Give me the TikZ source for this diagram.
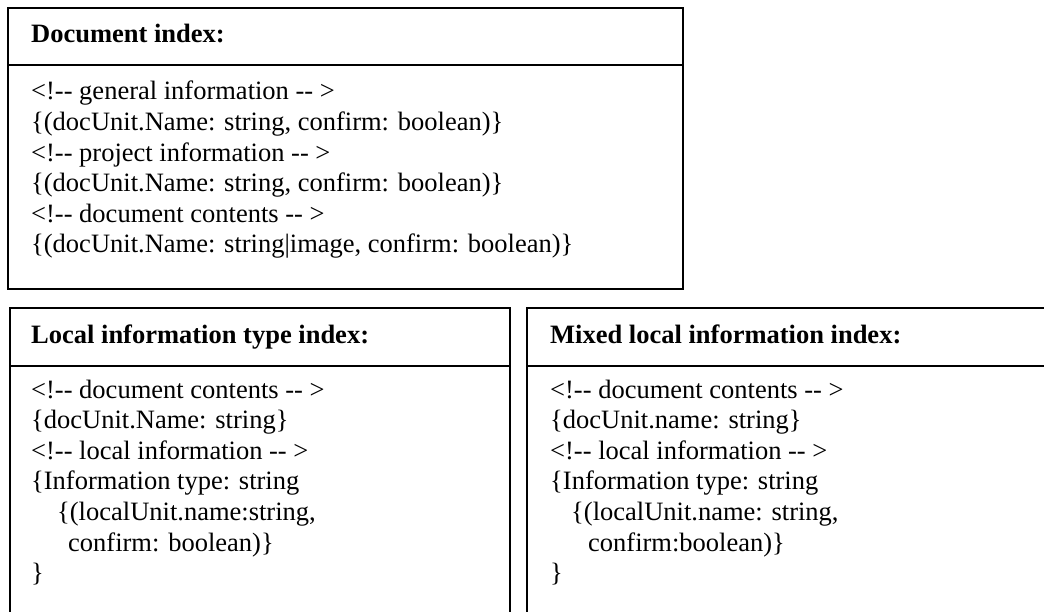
\documentclass[tikz,border=0pt]{standalone}
\usepackage{fontspec}
\setmainfont{Liberation Serif}
\newcommand{\dd}{-{}-}
\tikzset{
  boxframe/.style={draw=black, line width=1.3pt},
  headtext/.style={anchor=base west, inner sep=0pt, font=\fontsize{26.5}{30.6}\selectfont\bfseries},
  ln/.style={anchor=base west, inner sep=0pt, font=\fontsize{26.5}{30.6}\selectfont},
}
\begin{document}
\begin{tikzpicture}[x=1pt, y=-1pt]
\useasboundingbox (0,0) rectangle (1044,612);
\clip (0,0) rectangle (1044,612);
% --- Document index box
\coordinate (d1) at (8,8);
\coordinate (d2) at (683,289);
\coordinate (dl) at (8,65);
\coordinate (dr) at (683,65);
\draw[boxframe] (d1) rectangle (d2);
\draw[boxframe] (dl) -- (dr);
\node[headtext] (dh) at (31,43) {Document index:};
\node[ln] (da) at (31,100)   {<!\dd{} general information \dd{} >};
\node[ln] (db) at (31,130.6) {\{(docUnit.Name: string, confirm: boolean)\}};
\node[ln] (dc) at (31,161.2) {<!\dd{} project information \dd{} >};
\node[ln] (dd) at (31,191.8) {\{(docUnit.Name: string, confirm: boolean)\}};
\node[ln] (de) at (31,222.4) {<!\dd{} document contents \dd{} >};
\node[ln] (df) at (31,253)   {\{(docUnit.Name: string|image, confirm: boolean)\}};
% --- Local information type index box
\coordinate (l1) at (10,308);
\coordinate (l2) at (510,640);
\coordinate (ll) at (10,366);
\coordinate (lr) at (510,366);
\draw[boxframe] (l1) rectangle (l2);
\draw[boxframe] (ll) -- (lr);
\node[headtext] (lh) at (31,343) {Local information type index:};
\node[ln] (la) at (31,398)   {<!\dd{} document contents \dd{} >};
\node[ln] (lb) at (31,428.6) {\{docUnit.Name: string\}};
\node[ln] (lc) at (31,459.2) {<!\dd{} local information \dd{} >};
\node[ln] (ld) at (31,489.8) {\{Information type: string};
\node[ln] (le) at (57,520.4) {\{(localUnit.name:string,};
\node[ln] (lf) at (68,551)   {confirm: boolean)\}};
\node[ln] (lg) at (31,581.6) {\}};
% --- Mixed local information index box
\coordinate (m1) at (527,308);
\coordinate (m2) at (1080,640);
\coordinate (ml) at (527,366);
\coordinate (mr) at (1080,366);
\draw[boxframe] (m1) rectangle (m2);
\draw[boxframe] (ml) -- (mr);
\node[headtext] (mh) at (550,343) {Mixed local information index:};
\node[ln] (ma) at (550,398)   {<!\dd{} document contents \dd{} >};
\node[ln] (mb) at (550,428.6) {\{docUnit.name: string\}};
\node[ln] (mc) at (550,459.2) {<!\dd{} local information \dd{} >};
\node[ln] (md) at (550,489.8) {\{Information type: string};
\node[ln] (me) at (571,520.4) {\{(localUnit.name: string,};
\node[ln] (mf) at (588,551)   {confirm:boolean)\}};
\node[ln] (mg) at (550,581.6) {\}};
\end{tikzpicture}
\end{document}
